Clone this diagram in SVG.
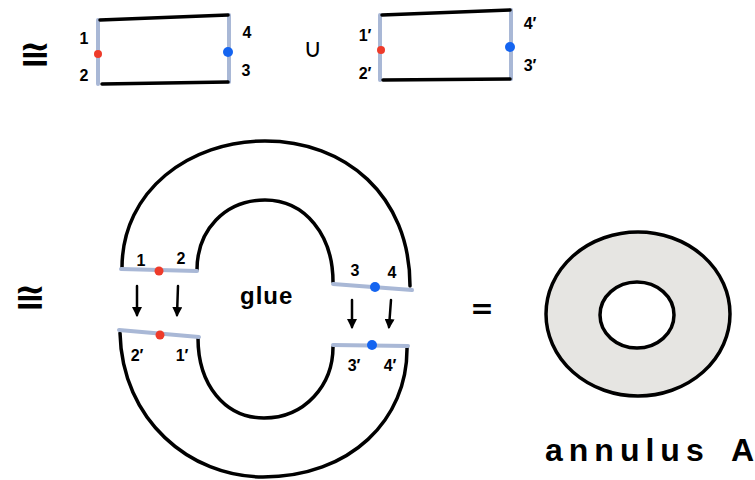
<svg xmlns="http://www.w3.org/2000/svg" width="755" height="480" viewBox="0 0 755 480">
<style>
.ink{fill:none;stroke:#000;stroke-width:3.5;stroke-linecap:round;stroke-linejoin:round}
.band{fill:none;stroke:#a9b8d6;stroke-width:4;stroke-linecap:round}
.red{fill:#ee3b2a}
.blue{fill:#1464f0}
.lbl{font-family:"Liberation Sans",Arial,sans-serif;font-weight:bold;font-size:16px;fill:#000}
.sym{font-family:"DejaVu Sans",sans-serif;font-weight:bold;fill:#000}
.hand{font-family:"Liberation Sans",Arial,sans-serif;font-weight:bold;fill:#000}
.arr{fill:none;stroke:#000;stroke-width:2.5;stroke-linecap:round}
</style>
<defs>
<marker id="ah" viewBox="0 0 10 10" refX="8" refY="5" markerWidth="4" markerHeight="4" orient="auto">
<path d="M0,0 L10,5 L0,10 Z" fill="#000"/>
</marker>
</defs>
<rect width="755" height="480" fill="#fff"/>

<g id="iso1"><text class="sym" x="35" y="67" font-size="38" text-anchor="middle">≅</text></g>

<g id="rect1">
<line class="band" x1="98" y1="20" x2="98" y2="84"/>
<line class="band" x1="229" y1="15" x2="229" y2="82"/>
<path class="ink" d="M100,20 L228,15"/>
<path class="ink" d="M102,84 L228,82"/>
<circle class="red" cx="98" cy="54" r="4"/>
<circle class="blue" cx="228" cy="52" r="5"/>
<text class="lbl" x="84" y="44" text-anchor="middle">1</text>
<text class="lbl" x="84" y="81" text-anchor="middle">2</text>
<text class="lbl" x="247" y="38" text-anchor="middle">4</text>
<text class="lbl" x="246" y="76" text-anchor="middle">3</text>
</g>

<g id="union"><text x="313" y="57" font-size="26" text-anchor="middle" font-family="DejaVu Sans,sans-serif">∪</text></g>

<g id="rect2">
<line class="band" x1="380" y1="15" x2="380" y2="80"/>
<line class="band" x1="511" y1="10" x2="511" y2="79"/>
<path class="ink" d="M382,15 L510,10"/>
<path class="ink" d="M383,80 L510,79"/>
<circle class="red" cx="381" cy="50" r="4"/>
<circle class="blue" cx="510" cy="47" r="5"/>
<text class="lbl" x="365" y="41" text-anchor="middle">1′</text>
<text class="lbl" x="365" y="79" text-anchor="middle">2′</text>
<text class="lbl" x="530" y="29" text-anchor="middle">4′</text>
<text class="lbl" x="530" y="71" text-anchor="middle">3′</text>
</g>

<g id="iso2"><text class="sym" x="30" y="310" font-size="38" text-anchor="middle">≅</text></g>

<g id="upper-half">
<path class="ink" d="M122,268 C122,190 190,141 265,141 C345,141 410,195 410,286"/>
<path class="ink" d="M197,270 C197,230 225,200 265,200 C305,200 333,235 333,282"/>
<line class="band" x1="121" y1="269" x2="197" y2="271"/>
<line class="band" x1="333" y1="284" x2="412" y2="290"/>
<circle class="red" cx="159" cy="271" r="4.5"/>
<circle class="blue" cx="375" cy="287" r="5"/>
<text class="lbl" x="141" y="266" text-anchor="middle">1</text>
<text class="lbl" x="181" y="264" text-anchor="middle">2</text>
<text class="lbl" x="355" y="276" text-anchor="middle">3</text>
<text class="lbl" x="392" y="278" text-anchor="middle">4</text>
</g>

<g id="lower-half">
<path class="ink" d="M120,333 C122,420 190,477 263,477 C350,477 408,420 407,347"/>
<path class="ink" d="M198,338 C198,385 225,418 264,418 C305,418 333,385 333,347"/>
<line class="band" x1="119" y1="330" x2="199" y2="337"/>
<line class="band" x1="333" y1="345" x2="408" y2="346"/>
<circle class="red" cx="160" cy="335" r="4.5"/>
<circle class="blue" cx="372" cy="345" r="5"/>
<text class="lbl" x="137" y="361" text-anchor="middle">2′</text>
<text class="lbl" x="182" y="361" text-anchor="middle">1′</text>
<text class="lbl" x="354" y="371" text-anchor="middle">3′</text>
<text class="lbl" x="390" y="371" text-anchor="middle">4′</text>
</g>

<g id="connectors">
<line class="arr" x1="137" y1="286" x2="137" y2="315" marker-end="url(#ah)"/>
<line class="arr" x1="178" y1="286" x2="177" y2="315" marker-end="url(#ah)"/>
<line class="arr" x1="352" y1="300" x2="352" y2="327" marker-end="url(#ah)"/>
<line class="arr" x1="391" y1="300" x2="389" y2="327" marker-end="url(#ah)"/>
</g>

<g id="glue-label"><text class="hand" x="240" y="304" font-size="24" letter-spacing="1">glue</text></g>

<g id="equals"><text class="sym" x="482" y="318" font-size="28" text-anchor="middle">=</text></g>

<g id="annulus">
<path d="M638,232 A92,82 0 1 0 638.1,232 Z M637,282 A37,33 0 1 1 636.9,282 Z" fill="#e6e5e2" fill-rule="evenodd"/>
<ellipse class="ink" cx="638" cy="314" rx="92" ry="82"/>
<ellipse class="ink" cx="637" cy="315" rx="37" ry="33"/>
</g>

<g id="annulus-label"><text class="hand" font-size="32"><tspan x="545" y="461" letter-spacing="6">annulus</tspan><tspan x="731" y="461">A</tspan></text></g>
</svg>
